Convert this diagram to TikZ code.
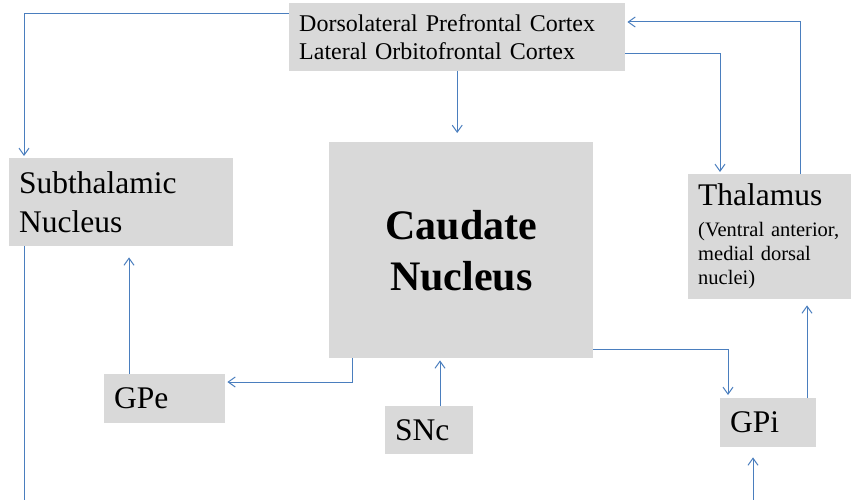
\documentclass[tikz,border=0pt]{standalone}
\usepackage{fontspec}
\setmainfont{Liberation Serif}
\usetikzlibrary{calc,arrows.meta}
\definecolor{boxgray}{RGB}{217,217,217}
\definecolor{linkblue}{RGB}{74,126,190}
\tikzset{box/.style={fill=boxgray, anchor=north west, inner xsep=10pt, inner ysep=0pt, align=left},
    link/.style={draw=linkblue, line width=1pt, -{Straight Barb[length=7pt,width=10pt]}},
    bigfont/.style={font=\fontsize{31.5}{39}\selectfont}}

\begin{document}
\begin{tikzpicture}[x=1pt,y=-1pt]
\useasboundingbox (0,0) rectangle (851,500);

%%% boites
\node[box, minimum height=68, text width=316, font=\fontsize{24}{28}\selectfont] (ctx) at (289,3)
    {Dorsolateral Prefrontal Cortex\\Lateral Orbitofrontal Cortex};
\node[box, minimum height=216, text width=244, align=center, font=\bfseries\fontsize{42}{51}\selectfont] (cau) at (329,142)
    {Caudate\\Nucleus};
\node[box, minimum height=88, text width=204, bigfont] (stn) at (9,158) {Subthalamic\\Nucleus};
\node[box, minimum height=125, text width=150, font=\fontsize{20.5}{24}\selectfont] (thal) at (688,174)
    {{\fontsize{31.5}{31.5}\selectfont Thalamus}\\[7pt](Ventral anterior,\\medial dorsal\\nuclei)};
\node[box, minimum height=49, text width=101, bigfont] (gpe) at (104,374) {GPe};
\node[box, minimum height=48, text width=68, bigfont] (snc) at (385,406) {SNc};
\node[box, minimum height=49, text width=76, bigfont] (gpi) at (720,398) {GPi};

% points de depart
\coordinate (stnout) at (24,500);
\coordinate (gpiin) at (753,500);
\coordinate (gpetop) at ($(gpe.north west)+(25,0)$);
\coordinate (snctop) at ($(snc.north west)+(55,0)$);
\coordinate (gpitop) at ($(gpi.north west)+(87,0)$);

%%% liens
% cortex
\draw[link, shorten >=2pt] ($(ctx.north west)+(0,11)$) -| ($(stn.north west)+(15,0)$);
\draw[link, shorten >=9pt] (ctx.south) -- (ctx.south |- cau.north);
\draw[link, shorten >=2pt] ($(ctx.north east)+(0,51)$) -| ($(thal.north west)+(32,0)$);
\draw[link] ($(thal.north west)+(112,0)$) |- ($(ctx.north east)+(2,19)$);

% noyaux
\draw[draw=linkblue, line width=1pt] ($(stn.south west)+(15,0)$) -- (stnout);
\draw[link, shorten >=11pt] (gpetop) -- (gpetop |- stn.south);
\draw[link] ($(cau.south west)+(23,0)$) |- ($(gpe.north east)+(2,8)$);
\draw[link, shorten >=2pt] (snctop) -- (snctop |- cau.south);
\draw[link, shorten >=3pt] ($(cau.south east)+(0,-9)$) -| ($(gpi.north west)+(8,0)$);
\draw[link, shorten >=6pt] (gpitop) -- (gpitop |- thal.south);
\draw[link, shorten >=10pt] (gpiin) -- (gpiin |- gpi.south);
\end{tikzpicture}
\end{document}
